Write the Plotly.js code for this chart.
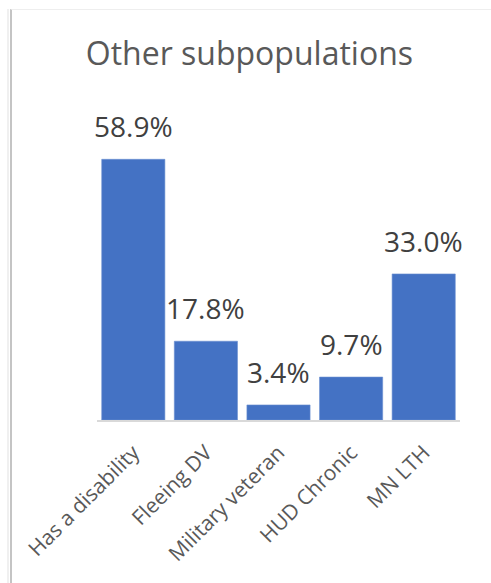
<!DOCTYPE html>
<html>
<head>
<meta charset="utf-8">
<script src="https://cdn.plot.ly/plotly-3.0.1.min.js"></script>
<style>
html,body{margin:0;padding:0;background:#fff;}
#wrap{position:relative;width:491px;height:583px;overflow:hidden;}
#chart{position:absolute;left:0;top:0;width:491px;height:583px;}
#frame{position:absolute;left:10px;top:9px;width:479px;height:580px;border-left:2px solid #c4c4c4;border-top:1px solid #eeeeee;border-right:1px solid #eeeeee;pointer-events:none;}
#frame2{position:absolute;left:7px;top:9px;width:2px;height:580px;background:#f0f0f0;pointer-events:none;}
</style>
</head>
<body>
<div id="wrap">
<div id="chart"></div>
<div id="frame2"></div>
<div id="frame"></div>
</div>
<script>
var categories = ["Has a disability", "Fleeing DV", "Military veteran", "HUD Chronic", "MN LTH"];
var values = [58.9, 17.8, 3.4, 9.7, 33.0];
var labels = ["58.9%", "17.8%", "3.4%", "9.7%", "33.0%"];

var font = '"Open Sans", "Noto Sans", sans-serif';

var trace = {
  type: 'bar',
  x: categories,
  y: values,
  marker: {color: '#4472C4', line: {color: '#6a8fd0', width: 0.6}},
  hoverinfo: 'skip'
};

var annotations = categories.map(function(c, i){
  return {
    x: c, y: values[i], xref: 'x', yref: 'y',
    text: labels[i], showarrow: false,
    yanchor: 'bottom', yshift: 12,
    font: {family: font, size: 28, color: '#404040'}
  };
});

var layout = {
  width: 491, height: 583,
  margin: {l: 97, r: 31, t: 100, b: 163, autoexpand: false},
  paper_bgcolor: '#ffffff',
  plot_bgcolor: '#ffffff',
  title: {
    text: 'Other subpopulations',
    font: {family: font, size: 32, color: '#595959'},
    x: 0.508, xanchor: 'center', y: 0.908, yanchor: 'middle'
  },
  bargap: 0.13,
  showlegend: false,
  xaxis: {
    type: 'category',
    range: [-0.5, categories.length - 0.5],
    automargin: false,
    tickangle: -45,
    tickfont: {family: font, size: 21, color: '#595959'},
    showline: true, linecolor: '#d9d9d9', linewidth: 2,
    ticks: 'outside', ticklen: 10, tickcolor: 'rgba(0,0,0,0)',
    showgrid: false, zeroline: false
  },
  yaxis: {
    range: [0, 72.3],
    automargin: false,
    visible: false,
    showgrid: false, zeroline: false
  },
  annotations: annotations
};

Plotly.newPlot('chart', [trace], layout, {staticPlot: true, displayModeBar: false});
</script>
</body>
</html>
